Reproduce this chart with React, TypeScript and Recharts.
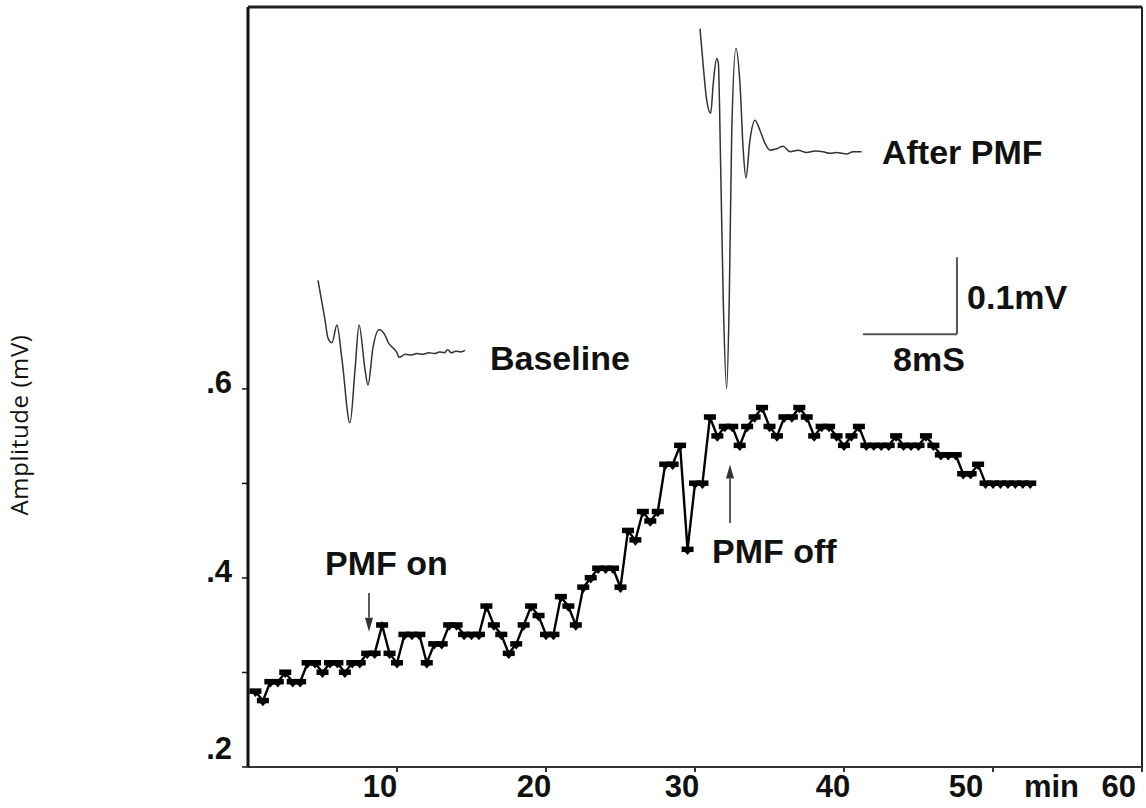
import React from 'react';
import { LineChart, Line, XAxis, YAxis, ReferenceLine, ReferenceDot } from 'recharts';

// Field potential amplitude (mV) sampled every 30 s
const minutes = [
  0.5, 1, 1.5, 2, 2.5, 3, 3.5, 4, 4.5, 5, 5.5, 6, 6.5, 7, 7.5, 8, 8.5, 9, 9.5, 10,
  10.5, 11, 11.5, 12, 12.5, 13, 13.5, 14, 14.5, 15, 15.5, 16, 16.5, 17, 17.5, 18, 18.5, 19, 19.5, 20,
  20.5, 21, 21.5, 22, 22.5, 23, 23.5, 24, 24.5, 25, 25.5, 26, 26.5, 27, 27.5, 28, 28.5, 29, 29.5, 30,
  30.5, 31, 31.5, 32, 32.5, 33, 33.5, 34, 34.5, 35, 35.5, 36, 36.5, 37, 37.5, 38, 38.5, 39, 39.5, 40,
  40.5, 41, 41.5, 42, 42.5, 43, 43.5, 44, 44.5, 45, 45.5, 46, 46.5, 47, 47.5, 48, 48.5, 49, 49.5, 50,
  50.5, 51, 51.5, 52, 52.5,
];
const amplitude = [
  0.28, 0.27, 0.29, 0.29, 0.30, 0.29, 0.29, 0.31, 0.31, 0.30, 0.31, 0.31, 0.30, 0.31, 0.31, 0.32, 0.32, 0.35, 0.32, 0.31,
  0.34, 0.34, 0.34, 0.31, 0.33, 0.33, 0.35, 0.35, 0.34, 0.34, 0.34, 0.37, 0.35, 0.34, 0.32, 0.33, 0.35, 0.37, 0.36, 0.34,
  0.34, 0.38, 0.37, 0.35, 0.39, 0.40, 0.41, 0.41, 0.41, 0.39, 0.45, 0.44, 0.47, 0.46, 0.47, 0.52, 0.52, 0.54, 0.43, 0.50,
  0.50, 0.57, 0.55, 0.56, 0.56, 0.54, 0.56, 0.57, 0.58, 0.56, 0.55, 0.57, 0.57, 0.58, 0.57, 0.55, 0.56, 0.56, 0.55, 0.54,
  0.55, 0.56, 0.54, 0.54, 0.54, 0.54, 0.55, 0.54, 0.54, 0.54, 0.55, 0.54, 0.53, 0.53, 0.53, 0.51, 0.51, 0.52, 0.50, 0.50,
  0.50, 0.50, 0.50, 0.50, 0.50,
];

const ampTicks = [0.2, 0.3, 0.4, 0.5, 0.6];
const timeTicks = [10, 20, 30, 40, 50, 60];

// Example sweeps, time in ms and potential in mV (inset frame)
const baselineMs = [
  5.96, 6.55, 6.81, 7.15, 7.57, 8.0, 8.68, 9.11, 9.45, 9.96, 10.21, 10.64, 11.15, 11.66, 11.91, 12.68, 12.85,
  13.4, 13.9, 14.4, 14.9, 15.4, 15.9, 16.3, 16.7, 17.0, 17.3, 17.7, 18.1, 18.47,
];
const baselineMv = [
  0.632, 0.581, 0.557, 0.551, 0.574, 0.529, 0.447, 0.516, 0.574, 0.516, 0.496, 0.545, 0.568, 0.561, 0.552, 0.538, 0.532,
  0.536, 0.535, 0.537, 0.536, 0.538, 0.537, 0.539, 0.538, 0.542, 0.538, 0.54, 0.539, 0.541,
];
const afterMs = [
  38.47, 38.75, 39.04, 39.38, 39.6, 39.89, 40.03, 40.23, 40.45, 40.74, 40.96, 41.17, 41.53, 41.87, 42.15, 42.38,
  42.72, 43.15, 43.57, 44.0, 44.43, 45.0, 45.53, 46.13, 46.81, 47.55, 48.26, 48.94, 49.53, 50.1, 50.95, 51.49, 52.23,
];
const afterMv = [
  0.959, 0.91, 0.866, 0.849, 0.888, 0.92, 0.914, 0.779, 0.606, 0.492, 0.606, 0.823, 0.933, 0.888, 0.801, 0.765,
  0.814, 0.84, 0.827, 0.81, 0.801, 0.803, 0.806, 0.799, 0.801, 0.798, 0.8, 0.799, 0.797, 0.798, 0.796, 0.799, 0.799,
];

// Calibration bar
const calMs = 8;
const calMv = 0.1;
const calCornerMs = 60.34;
const calCornerMv = 0.562;

const ampData = minutes.map((t, i) => ({ t, v: amplitude[i] }));
const baselineData = baselineMs.map((ms, i) => ({ ms, mv: baselineMv[i] }));
const afterData = afterMs.map((ms, i) => ({ ms, mv: afterMv[i] }));

const FONT = '"Liberation Sans", Arial, sans-serif';

const SampleMarker = (props: any) => {
  const { cx, cy } = props;
  if (cx == null || cy == null) return null;
  return (
    <g>
      <rect x={cx - 6} y={cy - 3} width={12} height={5.5} fill="#000" />
      <polygon points={`${cx - 3},${cy + 2} ${cx + 3},${cy + 2} ${cx},${cy + 5.5}`} fill="#000" />
    </g>
  );
};

const YTick = (props: any) => {
  const { x, y, payload } = props;
  const v = payload.value as number;
  const major = Math.round(v * 10) % 2 === 0;
  if (!major) return null;
  const label = v.toFixed(1).replace(/^0/, '');
  const lift = v < 0.25 ? 12 : 0;
  return (
    <text x={x - 10} y={y + 4 - lift} textAnchor="end" fontFamily={FONT} fontWeight="bold" fontSize={31} fill="#111">
      {label}
    </text>
  );
};

const xShift: Record<number, number> = { 10: -17, 20: -12, 30: -13, 40: -11, 50: -27 };

const XTick = (props: any) => {
  const { x, y, payload } = props;
  const v = payload.value as number;
  if (v === 60) {
    return (
      <g fontFamily={FONT} fontWeight="bold" fontSize={31} fill="#111">
        <text x={x - 59} y={y + 25} textAnchor="end">min</text>
        <text x={x - 2} y={y + 25} textAnchor="end">60</text>
      </g>
    );
  }
  return (
    <text x={x + (xShift[v] ?? -14)} y={y + 25} textAnchor="middle" fontFamily={FONT} fontWeight="bold" fontSize={31} fill="#111">
      {v}
    </text>
  );
};

const AmpLabel = () => (
  <text
    x={18}
    y={425}
    transform="rotate(-90, 18, 425)"
    textAnchor="middle"
    dominantBaseline="central"
    fontFamily='"Open Sans", sans-serif'
    fontSize={24}
    letterSpacing={0.6}
    fill="#111"
  >
    Amplitude (mV)
  </text>
);

const Arrow = (props: any) => {
  const { x1, y1, x2, y2 } = props;
  const dir = y2 > y1 ? 1 : -1;
  const head = 14;
  return (
    <g>
      <line x1={x1} y1={y1} x2={x2} y2={y2 - dir * head} stroke="#333" strokeWidth={1.6} />
      <polygon points={`${x2 - 4},${y2 - dir * head} ${x2 + 4},${y2 - dir * head} ${x2},${y2}`} fill="#333" />
    </g>
  );
};

const CalLine = (props: any) => {
  const { x1, y1, x2, y2 } = props;
  return <line x1={x1} y1={y1} x2={x2} y2={y2} stroke="#555" strokeWidth={2} />;
};

const caption = (text: string) => (props: any) => (
  <text x={props.cx} y={props.cy} fontFamily={FONT} fontWeight="bold" fontSize={34} fill="#111">
    {text}
  </text>
);

export default function App() {
  return (
    <div style={{ position: 'absolute', left: 0, top: 0, width: 1146, height: 808, background: '#fff' }}>
      <LineChart width={1146} height={808} margin={{ top: 7, right: 4, bottom: 0, left: 0 }}>
        <XAxis
          xAxisId="t"
          dataKey="t"
          type="number"
          domain={[0, 60]}
          ticks={timeTicks}
          height={41}
          tickSize={5}
          tickMargin={0}
          stroke="#333"
          axisLine={{ stroke: '#333', strokeWidth: 2 }}
          tickLine={{ stroke: '#333', strokeWidth: 2 }}
          tick={<XTick />}
          allowDataOverflow
        />
        <YAxis
          yAxisId="amp"
          type="number"
          domain={[0.2, 1.004]}
          ticks={ampTicks}
          width={248}
          tickSize={6}
          tickMargin={0}
          axisLine={{ stroke: '#111', strokeWidth: 3 }}
          tickLine={{ stroke: '#111', strokeWidth: 1.5 }}
          tick={<YTick />}
          label={<AmpLabel />}
          allowDataOverflow
        />
        <XAxis xAxisId="ms" dataKey="ms" type="number" domain={[0, 76.09]} height={0} hide allowDataOverflow />
        <YAxis yAxisId="mv" type="number" domain={[0, 0.987]} width={0} hide allowDataOverflow />

        <ReferenceLine xAxisId="t" yAxisId="amp" y={1.004} stroke="#222" strokeWidth={3} />
        <ReferenceLine xAxisId="t" yAxisId="amp" x={60} stroke="#222" strokeWidth={2} />

        <Line
          xAxisId="ms"
          yAxisId="mv"
          data={baselineData}
          dataKey="mv"
          type="monotoneX"
          stroke="#333"
          strokeWidth={1.5}
          dot={false}
          isAnimationActive={false}
        />
        <Line
          xAxisId="ms"
          yAxisId="mv"
          data={afterData}
          dataKey="mv"
          type="monotoneX"
          stroke="#333"
          strokeWidth={1.5}
          dot={false}
          isAnimationActive={false}
        />

        <ReferenceLine
          xAxisId="ms"
          yAxisId="mv"
          segment={[{ x: calCornerMs, y: calCornerMv }, { x: calCornerMs, y: calCornerMv + calMv }]}
          shape={CalLine}
        />
        <ReferenceLine
          xAxisId="ms"
          yAxisId="mv"
          segment={[{ x: calCornerMs - calMs, y: calCornerMv }, { x: calCornerMs, y: calCornerMv }]}
          shape={CalLine}
        />

        <Line
          xAxisId="t"
          yAxisId="amp"
          data={ampData}
          dataKey="v"
          type="linear"
          stroke="#000"
          strokeWidth={2.4}
          dot={<SampleMarker />}
          isAnimationActive={false}
        />

        <ReferenceLine
          xAxisId="t"
          yAxisId="amp"
          segment={[{ x: 8.12, y: 0.384 }, { x: 8.12, y: 0.343 }]}
          shape={Arrow}
        />
        <ReferenceLine
          xAxisId="t"
          yAxisId="amp"
          segment={[{ x: 32.35, y: 0.458 }, { x: 32.35, y: 0.52 }]}
          shape={Arrow}
        />

        <ReferenceDot xAxisId="t" yAxisId="amp" x={5.17} y={0.403} r={0} shape={caption('PMF on')} />
        <ReferenceDot xAxisId="t" yAxisId="amp" x={31.14} y={0.416} r={0} shape={caption('PMF off')} />
        <ReferenceDot xAxisId="t" yAxisId="amp" x={16.24} y={0.62} r={0} shape={caption('Baseline')} />
        <ReferenceDot xAxisId="t" yAxisId="amp" x={42.55} y={0.838} r={0} shape={caption('After PMF')} />
        <ReferenceDot xAxisId="t" yAxisId="amp" x={48.26} y={0.685} r={0} shape={caption('0.1mV')} />
        <ReferenceDot xAxisId="t" yAxisId="amp" x={43.29} y={0.619} r={0} shape={caption('8mS')} />
      </LineChart>
    </div>
  );
}
